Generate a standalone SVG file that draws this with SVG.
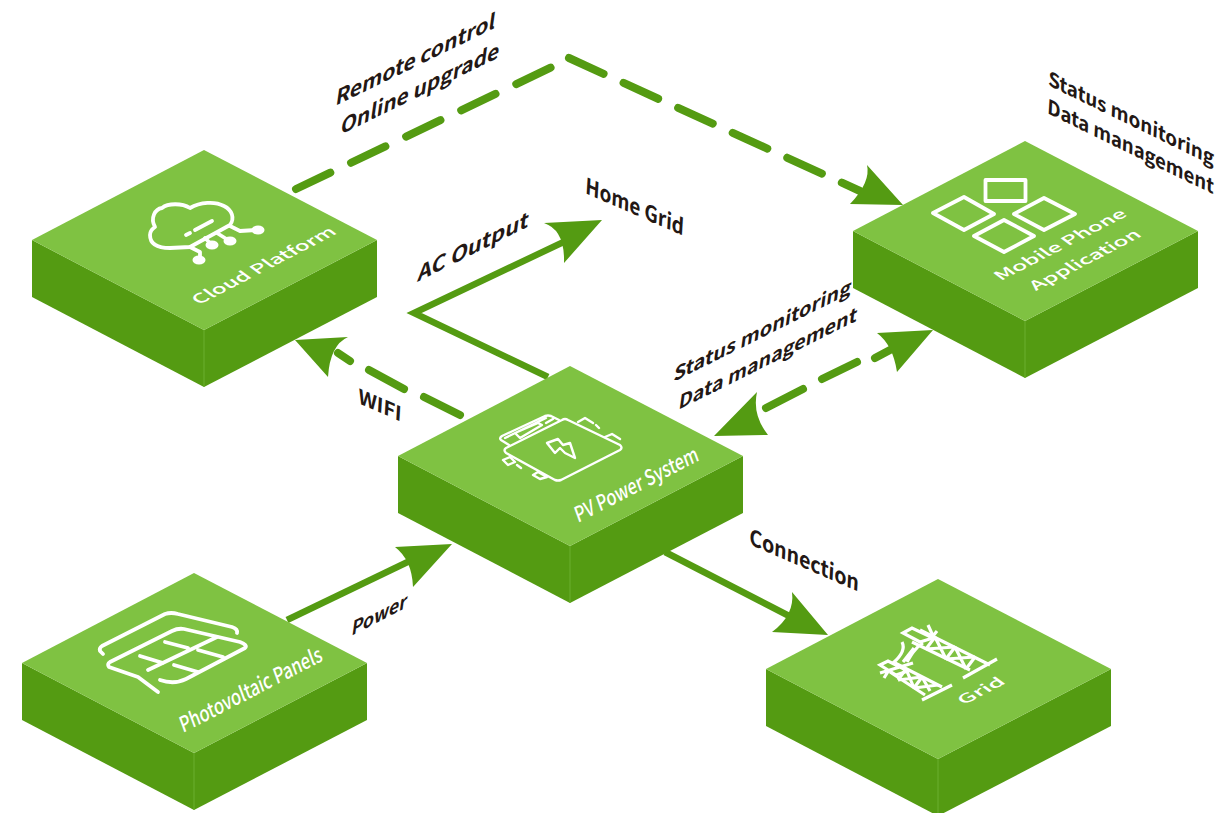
<svg xmlns="http://www.w3.org/2000/svg" width="1224" height="813" viewBox="0 0 1224 813">
<style>
.top{fill:#7fc242}.side{fill:#549b12}.edge{stroke:#6aaf2e;stroke-width:1;fill:none}
.ic{fill:none;stroke:#fff;stroke-width:3.8;stroke-linecap:round;stroke-linejoin:round}
.th{stroke-width:2.4}
.bt{stroke-linecap:butt;stroke-linejoin:miter;stroke-width:3.2}
.icf{fill:#fff}
.ln{fill:none;stroke:#549b12;stroke-width:6.5}
.ds{fill:none;stroke:#549b12;stroke-width:8;stroke-linecap:round}
.hd{fill:#549b12}
.dk{font-family:"Noto Sans CJK SC","Noto Sans",sans-serif;font-weight:700;fill:#231815}
.wh{font-family:"Noto Sans CJK SC","Noto Sans",sans-serif;font-weight:500;fill:#fff}
</style>
<defs>
<g id="block">
<path class="side" d="M0 90V147L172 237V180Z"/>
<path class="side" d="M172 180V237L345 147V90Z"/>
<path class="edge" d="M172 180V237"/>
<path class="top" d="M172 0L345 90L172 180L0 90Z"/>
</g>
</defs>
<rect width="1224" height="813" fill="#fff"/>
<g id="connectors">
<path class="ds" stroke-dasharray="38 23" d="M296 189L552 67"/>
<path class="ds" stroke-dasharray="38 22" d="M569 58L860 191"/>
<path class="hd" d="M903 205L867 165Q871 182 850 204Z"/>
<path class="ln" d="M548 377L414 313L572 238"/>
<path class="hd" d="M602 220L544 223Q565 230 564 263Z"/>
<path class="ds" d="M338 353L350 361M369 370L404 389M424 397L460 415"/>
<path class="hd" d="M295 340L348 337Q330 345 328 377Z"/>
<path class="ds" d="M766 408L803 389M822 379L857 362M875 358L890 350"/>
<path class="hd" d="M933 330L877 333Q893 345 897 372Z"/>
<path class="hd" d="M714 436L757 392Q752 415 768 435Z"/>
<path class="ln" d="M287 620L418 557"/>
<path class="hd" d="M452 544L395 547Q412 560 413 587Z"/>
<path class="ln" d="M665 552L795 619"/>
<path class="hd" d="M828 635L792 592Q795 615 772 632Z"/>
</g>
<g id="cloud-platform">
<use href="#block" x="32" y="150"/>
<path class="ic" d="M190 247L170 248C158 248 150 244 150 235C150 231 152 229 155 227C150 218 155 209 162 208C168 203 182 203 190 208C200 202 215 201 224 206C232 210 235 218 230 225Z"/>
<path class="ic" d="M230 226L240 231L256 230M217 233L228 240M205 238L212 245M190 247L200 252V260"/>
<path class="ic" stroke-linecap="butt" d="M195 230L212 221M186 235L190 233"/>
<ellipse class="icf" cx="258" cy="230" rx="6.500" ry="4.500"/><ellipse class="icf" cx="230" cy="241" rx="6.500" ry="4.500"/><ellipse class="icf" cx="212" cy="245" rx="6.500" ry="4.500"/><ellipse class="icf" cx="199" cy="260" rx="6.500" ry="4.500"/>
<text class="wh" font-size="16.500" lengthAdjust="spacingAndGlyphs" transform="matrix(.89 -.46 .8 .6 199 305)" textLength="156">Cloud Platform</text>
</g>
<g id="pv-power-system">
<use href="#block" x="398" y="366"/>
<path class="ic th" d="M568 420L620 445Q623 448 620 450L561 480Q558 481 555 480L506 453Q503 450 506 448L562 420Q565 418 568 420Z"/>
<path class="ic th" d="M509 445L501 440Q499 438 502 436L545 416Q548 415 551 416L559 420M515 433L538 423L542 425L520 438ZM505 438L546 418M553 419L546 423"/>
<path class="ic th" d="M578 422L585 418L593 423M596 425L599 428M605 437L612 434L620 439M503 460L510 457L515 462L508 465L503 460M517 465L521 468M533 475L538 472L547 477L540 479Z"/>
<path class="ic th" d="M547 443L558 439L563 445L570 443L575 458L565 453L560 448L555 453Z"/>
<text class="wh" font-size="21" lengthAdjust="spacingAndGlyphs" transform="matrix(.89 -.46 .35 .95 578 523)" textLength="137">PV Power System</text>
</g>
<g id="mobile-phone-application">
<use href="#block" x="853" y="141"/>
<rect class="ic" x="985.500" y="180" width="40" height="21"/>
<path class="ic" d="M933 213L964 197L994 214L964 230ZM1014 214L1044 198L1075 214L1044 230ZM974 236L1004 220L1034 236L1004 252Z"/>
<text class="wh" font-size="16" lengthAdjust="spacingAndGlyphs" transform="matrix(.89 -.46 .8 .6 1001 281)" textLength="143">Mobile Phone</text>
<text class="wh" font-size="16" lengthAdjust="spacingAndGlyphs" transform="matrix(.89 -.46 .8 .6 1036 291)" textLength="120">Application</text>
</g>
<g id="photovoltaic-panels">
<use href="#block" x="22" y="573"/>
<path class="ic" d="M103 654L100 651Q99 648 102 646L165 614Q171 612 178 614L232 627Q238 629 237 633"/>
<path class="ic" d="M158 692L138 677L109 667Q107 664 110 662L172 631Q178 628 184 629L240 642Q248 645 245 648L186 679Q174 685 160 680"/>
<path class="ic" d="M148 670L217 637M140 656L163 663M165 642L188 648M174 665L198 672M198 650L223 657"/>
<text class="wh" font-size="21" lengthAdjust="spacingAndGlyphs" transform="matrix(.89 -.46 .35 .95 183 733)" textLength="158">Photovoltaic Panels</text>
</g>
<g id="grid">
<use href="#block" x="766" y="579"/>
<g class="ic bt">
<path d="M963 678L997 659M920 630L990 665M912 642L970 670"/>
<path d="M903 633L912 628L933 638L920 642ZM928 625L933 636L937 631"/>
<path d="M935 637L926 649M955 647L946 659M975 657L966 669M935 637L946 659M955 647L926 649M955 647L966 669M975 657L946 659"/>
<path d="M922 700L952 685M895 663L942 687M890 672L925 695"/>
<path d="M880 673L913 663M880 665L888 661L908 671L896 675ZM884 678L889 670"/>
<path d="M906 669L898 680M922 677L914 688M906 669L914 688M922 677L898 680M938 685L914 688M922 677L930 691"/>
<path d="M902 642C906 650 900 657 893 663M923 643C915 648 911 655 907 662M914 648L903 662"/>
</g>
<text class="wh" font-size="15.500" lengthAdjust="spacingAndGlyphs" transform="matrix(.89 -.46 .8 .6 964 705)" textLength="48">Grid</text>
</g>
<g id="labels">
<text class="dk" font-size="22" lengthAdjust="spacingAndGlyphs" transform="matrix(.9 -.44 -.14 1 335 106)" textLength="177">Remote control</text>
<text class="dk" font-size="22" lengthAdjust="spacingAndGlyphs" transform="matrix(.9 -.44 -.14 1 340 135)" textLength="176">Online upgrade</text>
<text class="dk" font-size="20" lengthAdjust="spacingAndGlyphs" transform="matrix(.9 .44 -.06 1 1048 85)" textLength="184">Status monitoring</text>
<text class="dk" font-size="20" lengthAdjust="spacingAndGlyphs" transform="matrix(.9 .44 -.06 1 1047 113)" textLength="185">Data management</text>
<text class="dk" font-size="22" lengthAdjust="spacingAndGlyphs" transform="matrix(.9 -.45 -.14 1 417 282)" textLength="123">AC Output</text>
<text class="dk" font-size="22" lengthAdjust="spacingAndGlyphs" transform="matrix(.92 .4 -.06 1 585 193)" textLength="107">Home Grid</text>
<text class="dk" font-size="20" lengthAdjust="spacingAndGlyphs" transform="matrix(.92 .4 -.06 1 358 403)" textLength="47">WIFI</text>
<text class="dk" font-size="20" lengthAdjust="spacingAndGlyphs" transform="matrix(.9 -.45 -.14 1 673 382)" textLength="197">Status monitoring</text>
<text class="dk" font-size="20" lengthAdjust="spacingAndGlyphs" transform="matrix(.9 -.45 -.14 1 678 410)" textLength="198">Data management</text>
<text class="dk" font-size="22" lengthAdjust="spacingAndGlyphs" transform="matrix(.92 .4 -.06 1 749 544)" textLength="119">Connection</text>
<text class="dk" font-size="20" lengthAdjust="spacingAndGlyphs" transform="matrix(.89 -.46 -.14 1 351 636)" textLength="62">Power</text>
</g>
</svg>
